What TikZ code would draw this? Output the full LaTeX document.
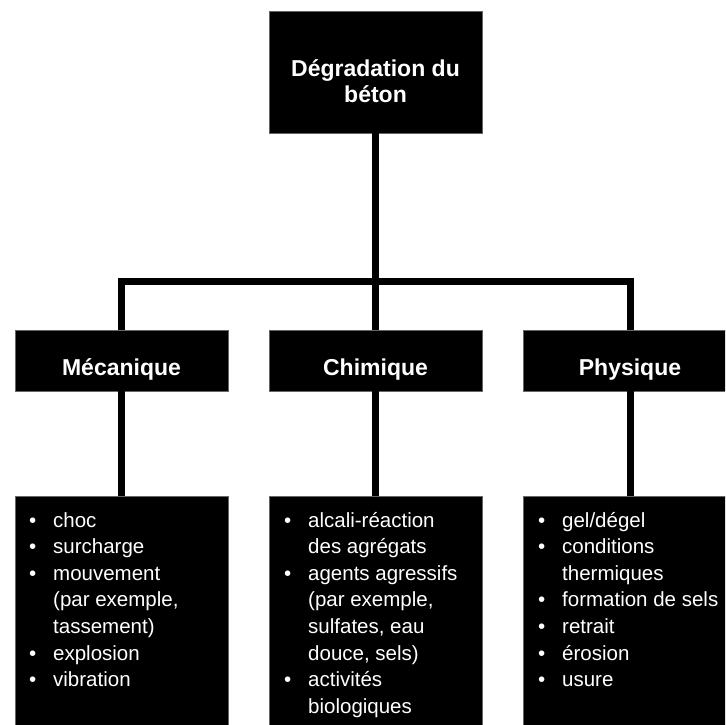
\documentclass[tikz,border=0pt]{standalone}
\usepackage{fontspec}
\setmainfont{Liberation Sans}
\newcommand{\myb}{\makebox[24pt][l]{•}}
\begin{document}
\begin{tikzpicture}[x=1pt,y=-1pt,
 box/.style={fill=black,draw=black!60,line width=0.4pt,inner sep=0pt,minimum width=213pt},
 conn/.style={line width=7pt,black,line join=miter},
 head/.style={text=white,font=\fontsize{23}{25}\selectfont\bfseries,inner sep=0pt,anchor=base},
 list/.style={text=white,font=\fontsize{20.5}{26.6}\selectfont,inner sep=0pt,anchor=base west}]
\useasboundingbox (0,0) rectangle (725,725);
\clip (0,0) rectangle (725,725);
\fill[white] (0,0) rectangle (725,725);
% boxes
\node[box,minimum height=122pt] (top) at (375.5,72) {};
\node[box,minimum height=61pt] (mec) at (121.5,360.5) {};
\node[box,minimum height=61pt] (chi) at (375.5,360.5) {};
\node[box,minimum height=61pt] (phy) at (630,360.5) {};
\node[box,minimum height=304pt] (mecl) at (121.5,648) {};
\node[box,minimum height=304pt] (chil) at (375.5,648) {};
\node[box,minimum height=304pt] (phyl) at (630,648) {};
% connectors
\coordinate (bus) at (375.5,281);
\draw[conn] (top.south) -- (bus);
\draw[conn] (mec.north) |- (bus) -| (phy.north);
\draw[conn] (bus) -- (chi.north);
\draw[conn] (mec.south) -- (mecl.north);
\draw[conn] (chi.south) -- (chil.north);
\draw[conn] (phy.south) -- (phyl.north);
% texts
\node[head] (topt) at (375.5,77) {\begin{tabular}[t]{@{}c@{}}Dégradation du\\béton\end{tabular}};
\node[head] (mect) at (121.5,375) {Mécanique};
\node[head] (chit) at (375.5,375) {Chimique};
\node[head] (phyt) at (630,375) {Physique};
\node[list] (meclt) at (29,527) {\begin{tabular}[t]{@{}l@{}l@{}}\myb & choc\\ \myb & surcharge\\ \myb & mouvement\\ & (par exemple,\\ & tassement)\\ \myb & explosion\\ \myb & vibration\end{tabular}};
\node[list] (chilt) at (284,527) {\begin{tabular}[t]{@{}l@{}l@{}}\myb & alcali-réaction\\ & des agrégats\\ \myb & agents agressifs\\ & (par exemple,\\ & sulfates, eau\\ & douce, sels)\\ \myb & activités\\ & biologiques\end{tabular}};
\node[list] (phylt) at (538,527) {\begin{tabular}[t]{@{}l@{}l@{}}\myb & gel/dégel\\ \myb & conditions\\ & thermiques\\ \myb & formation de sels\\ \myb & retrait\\ \myb & érosion\\ \myb & usure\end{tabular}};
\end{tikzpicture}
\end{document}
